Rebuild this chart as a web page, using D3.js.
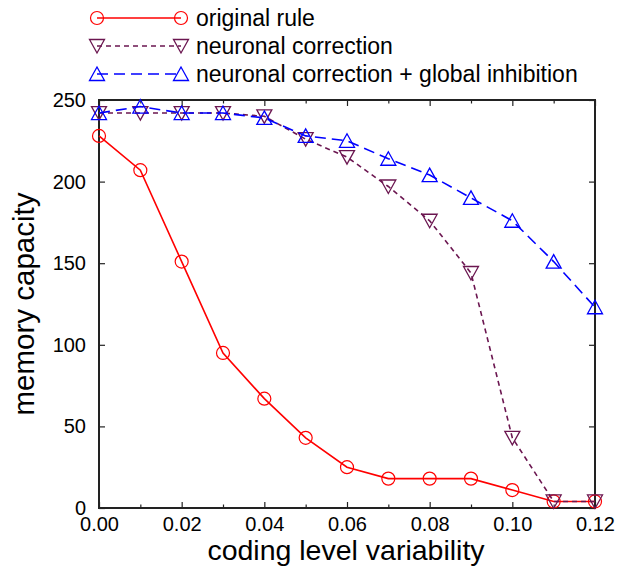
<!DOCTYPE html>
<html>
<head>
<meta charset="utf-8">
<script src="https://cdn.jsdelivr.net/npm/d3@7"></script>
<style>
  html, body { margin: 0; padding: 0; background: #fff; }
  svg { display: block; }
  text { font-family: "Liberation Sans", Arial, Helvetica, sans-serif; fill: #000; }
</style>
</head>
<body>
<svg id="chart" width="618" height="566"></svg>
<script>
// coding level variability (x values)
const variability = [0.00, 0.01, 0.02, 0.03, 0.04, 0.05, 0.06, 0.07, 0.08, 0.09, 0.10, 0.11, 0.12];
// memory capacity per rule
const originalRule = [228, 207, 151, 95, 67, 43, 25, 18, 18, 18, 11, 4, 4];
const neuronalCorrection = [242, 242, 242, 242, 240, 226, 215, 197, 176, 144, 43, 4, 4];
const globalInhibition = [242, 246, 242, 242, 239, 228, 225, 214, 204, 190, 176, 151, 123];

const seriesNames = ["original rule", "neuronal correction", "neuronal correction + global inhibition"];
const xTickValues = [0.00, 0.02, 0.04, 0.06, 0.08, 0.10, 0.12];
const xMinorTickValues = [0.01, 0.03, 0.05, 0.07, 0.09, 0.11];
const yTickValues = [0, 50, 100, 150, 200, 250];

const svg = d3.select("#chart");
const margin = { left: 99, right: 23, top: 100, bottom: 58 };
const W = 618, H = 566;

const x = d3.scaleLinear().domain([0, 0.12]).range([margin.left, W - margin.right]);
const y = d3.scaleLinear().domain([0, 250]).range([H - margin.bottom, margin.top]);

const series = [
  { name: seriesNames[0], values: originalRule, color: "#ff0000", dash: null, marker: "circle" },
  { name: seriesNames[1], values: neuronalCorrection, color: "#6b1650", dash: "5,4", marker: "down" },
  { name: seriesNames[2], values: globalInhibition, color: "#0000ff", dash: "11,6", marker: "up" }
];

function drawMarker(g, kind, cx, cy, color) {
  if (kind === "circle") {
    g.append("circle").attr("cx", cx).attr("cy", cy).attr("r", 6.5)
      .attr("fill", "none").attr("stroke", color).attr("stroke-width", 1.2);
  } else {
    const s = kind === "up" ? 1 : -1;
    const pts = [[cx, cy - 7 * s], [cx - 7.5, cy + 6.5 * s], [cx + 7.5, cy + 6.5 * s]];
    g.append("path").attr("d", "M" + pts.map(p => p.join(",")).join("L") + "Z")
      .attr("fill", "none").attr("stroke", color).attr("stroke-width", 1.3);
  }
}

// Axes frame and ticks
const axisColor = "#222";
const xAxisB = d3.axisBottom(x).tickValues(xTickValues).tickSize(-6).tickFormat(d3.format(".2f")).tickPadding(9);
const xAxisT = d3.axisTop(x).tickValues(xTickValues).tickSize(-6).tickFormat("");
const yAxisL = d3.axisLeft(y).tickValues(yTickValues).tickSize(-6).tickFormat(d3.format("d")).tickPadding(13);
const yAxisR = d3.axisRight(y).tickValues(yTickValues).tickSize(-6).tickFormat("");
const xMinorB = d3.axisBottom(x).tickValues(xMinorTickValues).tickSize(-3.5).tickFormat("");
const xMinorT = d3.axisTop(x).tickValues(xMinorTickValues).tickSize(-3.5).tickFormat("");

function styleAxis(g) {
  g.select(".domain").remove();
  g.selectAll(".tick line").attr("stroke", axisColor).attr("stroke-width", 1.2);
  g.selectAll(".tick text").attr("font-size", 20).attr("fill", "#000")
    .style("font-family", "'Liberation Sans', Arial, sans-serif");
}

svg.append("g").attr("transform", `translate(0,${y(0)})`).call(xAxisB).call(styleAxis);
svg.append("g").attr("transform", `translate(0,${y(0)})`).call(xMinorB).call(styleAxis);
svg.append("g").attr("transform", `translate(0,${y(250)})`).call(xAxisT).call(styleAxis);
svg.append("g").attr("transform", `translate(0,${y(250)})`).call(xMinorT).call(styleAxis);
svg.append("g").attr("transform", `translate(${x(0)},0)`).call(yAxisL).call(styleAxis);
svg.append("g").attr("transform", `translate(${x(0.12)},0)`).call(yAxisR).call(styleAxis);

svg.append("rect")
  .attr("x", x(0)).attr("y", y(250))
  .attr("width", x(0.12) - x(0)).attr("height", y(0) - y(250))
  .attr("fill", "none").attr("stroke", axisColor).attr("stroke-width", 2);

// Axis titles
svg.append("text")
  .attr("x", (x(0) + x(0.12)) / 2 - 1).attr("y", 560)
  .attr("text-anchor", "middle").attr("font-size", 28.5)
  .text("coding level variability");

svg.append("text")
  .attr("transform", `translate(34,${(y(0) + y(250)) / 2}) rotate(-90)`)
  .attr("text-anchor", "middle").attr("font-size", 29.5)
  .text("memory capacity");

// Data series
const line = d3.line().x((d, i) => x(variability[i])).y(d => y(d));
series.forEach(s => {
  const g = svg.append("g");
  g.append("path").datum(s.values)
    .attr("d", line).attr("fill", "none")
    .attr("stroke", s.color).attr("stroke-width", 1.6)
    .attr("stroke-dasharray", s.dash);
  s.values.forEach((v, i) => drawMarker(g, s.marker, x(variability[i]), y(v), s.color));
});

// Legend
const legendRows = [18, 46, 74];
series.forEach((s, i) => {
  const g = svg.append("g");
  const ly = legendRows[i];
  g.append("line").attr("x1", 97).attr("x2", 181).attr("y1", ly).attr("y2", ly)
    .attr("stroke", s.color).attr("stroke-width", 1.6).attr("stroke-dasharray", s.dash);
  drawMarker(g, s.marker, 97, ly, s.color);
  drawMarker(g, s.marker, 181, ly, s.color);
  g.append("text").attr("x", 196).attr("y", ly + 8).attr("font-size", 23).text(s.name);
});
</script>
</body>
</html>
